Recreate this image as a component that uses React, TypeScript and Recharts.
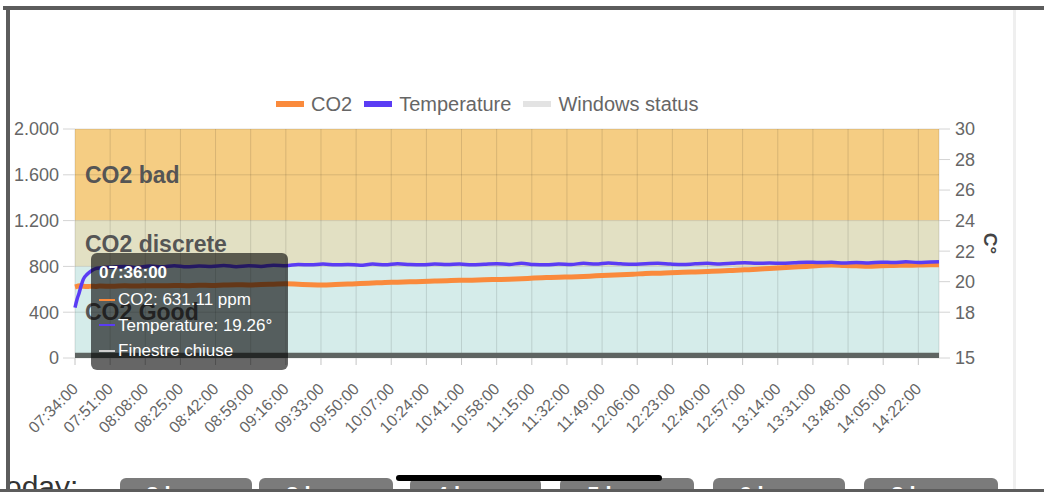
import React from 'react';
import {
  ComposedChart,
  Line,
  Area,
  XAxis,
  YAxis,
  CartesianGrid,
  ReferenceArea,
  Tooltip,
  Legend,
} from 'recharts';

const FONT = '"Liberation Sans", Arial, Helvetica, sans-serif';

// minutes elapsed since 07:34:00
const minutes = [
  0, 1, 2, 3, 4, 6, 8, 10, 12,
  18, 24, 30, 36, 42, 48, 54, 60, 66, 72,
  78, 84, 90, 96, 102, 108, 114, 120, 126, 132,
  138, 144, 150, 156, 162, 168, 174, 180, 186, 192,
  198, 204, 210, 216, 222, 228, 234, 240, 246, 252,
  258, 264, 270, 276, 282, 288, 294, 300, 306, 312,
  318, 324, 330, 336, 342, 348, 354, 360, 366, 372,
  378, 384, 390, 396, 402, 408, 414, 418,
];

const co2 = [
  620, 625, 631.11, 628, 626, 624, 627, 625, 628,
  626, 630, 628, 632, 630, 634, 632, 636, 634, 638,
  640, 638, 642, 645, 648, 644, 640, 638, 642, 646,
  650, 655, 660, 662, 666, 668, 672, 675, 678, 680,
  684, 686, 688, 692, 698, 702, 706, 708, 712, 718,
  722, 728, 732, 738, 740, 745, 748, 752, 756, 760,
  765, 770, 775, 782, 788, 794, 800, 808, 812, 808,
  805, 802, 806, 808, 810, 812, 814, 815,
];

const temperature = [
  18.3, 18.85, 19.26, 19.75, 20.15, 20.5, 20.72, 20.85, 20.9,
  20.95, 21.0, 20.93, 21.02, 20.98, 21.05, 20.97, 21.03, 21.0, 21.06,
  20.98, 21.04, 21.0, 21.08, 21.05, 21.12, 21.1, 21.15, 21.1, 21.13,
  21.08, 21.15, 21.1, 21.17, 21.12, 21.1, 21.15, 21.12, 21.16, 21.1,
  21.14, 21.18, 21.13, 21.2, 21.12, 21.1, 21.16, 21.13, 21.2, 21.15,
  21.22, 21.17, 21.14, 21.18, 21.2, 21.15, 21.12, 21.17, 21.2, 21.16,
  21.2, 21.24, 21.2, 21.22, 21.2, 21.24, 21.28, 21.25, 21.27, 21.22,
  21.25, 21.22, 21.28, 21.25, 21.3, 21.26, 21.29, 21.3,
];

const windowsStatus = [{ from: 0, to: 418, closed: true, label: 'Finestre chiuse' }];

const xTickMinutes = [
  0, 17, 34, 51, 68, 85, 102, 119, 136, 153, 170, 187, 204,
  221, 238, 255, 272, 289, 306, 323, 340, 357, 374, 391, 408,
];
const xTickLabels = [
  '07:34:00', '07:51:00', '08:08:00', '08:25:00', '08:42:00', '08:59:00', '09:16:00',
  '09:33:00', '09:50:00', '10:07:00', '10:24:00', '10:41:00', '10:58:00', '11:15:00',
  '11:32:00', '11:49:00', '12:06:00', '12:23:00', '12:40:00', '12:57:00', '13:14:00',
  '13:31:00', '13:48:00', '14:05:00', '14:22:00',
];

const co2Ticks = [0, 400, 800, 1200, 1600, 2000];
const co2TickLabels = ['0', '400', '800', '1.200', '1.600', '2.000'];
const tempTicks = [15, 18, 20, 22, 24, 26, 28, 30];

const co2Bands = [
  { name: 'CO2 bad', from: 1200, to: 2000, color: '#f5cd83' },
  { name: 'CO2 discrete', from: 800, to: 1200, color: '#e2e0c3' },
  { name: 'CO2 Good', from: 0, to: 800, color: '#d5ecea' },
];

const CO2_COLOR = '#fa8a3c';
const TEMP_COLOR = '#5a3cf4';
const WINDOW_COLOR = '#5e6462';

const legendItems = [
  { name: 'CO2', color: CO2_COLOR },
  { name: 'Temperature', color: TEMP_COLOR },
  { name: 'Windows status', color: '#e3e3e3' },
];

const buttonLabels = ['2 hours', '3 hours', '4 hours', '5 hours', '6 hours', '8 hours'];
const buttonSpans = [
  [120, 252], [259, 393], [410, 541], [560, 694], [713, 845], [864, 998],
];

const START_MIN = 7 * 60 + 34;
const fmtTime = (m: number) => {
  const t = START_MIN + m;
  const h = Math.floor(t / 60);
  const mm = t % 60;
  return `${String(h).padStart(2, '0')}:${String(mm).padStart(2, '0')}:00`;
};

const data = minutes.map((m, i) => ({
  m,
  time: fmtTime(m),
  co2: co2[i],
  temperature: temperature[i],
  windows: windowsStatus.some((s) => s.closed && m >= s.from && m <= s.to) ? 45 : 0,
}));

const XTick = (props: any) => {
  const { x, payload } = props;
  const idx = xTickMinutes.indexOf(payload.value);
  return (
    <g transform={`translate(${x + 4},${390}) rotate(-45)`}>
      <text x={0} y={0} textAnchor="end" fill="#666" fontSize={16} fontFamily={FONT}>
        {xTickLabels[idx]}
      </text>
    </g>
  );
};

const TooltipBox = (props: any) => {
  const { active, payload } = props;
  if (!active || !payload || !payload.length) return null;
  const row = payload[0].payload;
  const items = [
    { color: CO2_COLOR, text: `CO2: ${row.co2.toFixed(2)} ppm` },
    { color: TEMP_COLOR, text: `Temperature: ${row.temperature}°` },
    { color: '#cfcfcf', text: windowsStatus[0].label },
  ];
  return (
    <div
      style={{
        width: 197,
        height: 117,
        boxSizing: 'border-box',
        padding: '9px 8px',
        background: 'rgba(0,0,0,0.6)',
        borderRadius: 6,
        color: '#fff',
        fontFamily: FONT,
      }}
    >
      <div style={{ fontWeight: 'bold', fontSize: 17, lineHeight: '22px' }}>{row.time}</div>
      <div style={{ marginTop: 3 }}>
        {items.map((it) => (
          <div key={it.text} style={{ display: 'flex', alignItems: 'center', fontSize: 17, lineHeight: '25.5px', whiteSpace: 'nowrap' }}>
            <span style={{ display: 'inline-block', width: 16, height: 2, background: it.color, marginRight: 3 }} />
            <span>{it.text}</span>
          </div>
        ))}
      </div>
    </div>
  );
};

const LegendBox = () => (
  <div
    style={{
      display: 'flex',
      alignItems: 'center',
      paddingLeft: 276,
      height: 24,
      fontFamily: FONT,
      fontSize: 20,
      color: '#666',
    }}
  >
    {legendItems.map((it) => (
      <div key={it.name} style={{ display: 'flex', alignItems: 'center', marginRight: 12 }}>
        <span style={{ display: 'inline-block', width: 28, height: 6, background: it.color, marginRight: 7 }} />
        <span>{it.name}</span>
      </div>
    ))}
  </div>
);

const TempAxisLabel = (props: any) => {
  const vb = props.viewBox || { x: 939, y: 129, width: 105, height: 229 };
  const x = vb.x + 45;
  const y = vb.y + vb.height / 2;
  return (
    <text transform={`translate(${x},${y}) rotate(90)`} textAnchor="middle" fontSize={19} fontWeight="bold" fill="#444" fontFamily={FONT}>
      C°
    </text>
  );
};

export default function App() {
  return (
    <div style={{ position: 'absolute', left: 0, top: 0, width: 1044, height: 492, overflow: 'hidden', background: '#fff' }}>
      <div style={{ position: 'absolute', left: 0, top: 0 }}>
        <ComposedChart width={1044} height={492} data={data} margin={{ top: 129, right: 0, bottom: 54, left: 0 }}>
          {co2Bands.map((b) => (
            <ReferenceArea
              key={b.name}
              yAxisId="co2"
              y1={b.from}
              y2={b.to}
              fill={b.color}
              fillOpacity={1}
              stroke="none"
              ifOverflow="hidden"
              zIndex={-200}
              label={{ value: b.name, position: 'insideLeft', offset: 10, fill: '#555', fontSize: 23, fontWeight: 'bold', fontFamily: FONT }}
            />
          ))}
          <CartesianGrid yAxisId="co2" stroke="rgba(0,0,0,0.12)" zIndex={-100} />
          <XAxis
            dataKey="m"
            type="number"
            domain={[0, 418]}
            ticks={xTickMinutes}
            interval={0}
            height={80}
            axisLine={false}
            tickLine={{ stroke: '#c4c4c4' }}
            tickSize={7}
            tick={<XTick />}
          />
          <YAxis
            yAxisId="co2"
            orientation="left"
            width={75}
            domain={[0, 2000]}
            ticks={co2Ticks}
            interval={0}
            axisLine={false}
            tickLine={{ stroke: '#d4d4d4' }}
            tickSize={12}
            tickMargin={4}
            tick={{ fill: '#666', fontSize: 18, fontFamily: FONT }}
            tickFormatter={(v: number) => co2TickLabels[co2Ticks.indexOf(v)]}
          />
          <YAxis
            yAxisId="temp"
            orientation="right"
            width={105}
            domain={[15, 30]}
            ticks={tempTicks}
            interval={0}
            axisLine={false}
            tickLine={{ stroke: '#d4d4d4' }}
            tickSize={11}
            tickMargin={5}
            tick={{ fill: '#666', fontSize: 18, fontFamily: FONT }}
            label={<TempAxisLabel />}
          />
          <Area
            yAxisId="co2"
            dataKey="windows"
            name="Windows status"
            type="stepAfter"
            fill={WINDOW_COLOR}
            fillOpacity={1}
            stroke="none"
            isAnimationActive={false}
            activeDot={false}
          />
          <Line
            yAxisId="co2"
            dataKey="co2"
            name="CO2"
            type="monotone"
            stroke={CO2_COLOR}
            strokeWidth={5}
            dot={false}
            activeDot={false}
            isAnimationActive={false}
          />
          <Line
            yAxisId="temp"
            dataKey="temperature"
            name="Temperature"
            type="monotone"
            stroke={TEMP_COLOR}
            strokeWidth={3.5}
            dot={false}
            activeDot={false}
            isAnimationActive={false}
          />
          <Legend
            verticalAlign="middle"
            align="center"
            wrapperStyle={{ top: 92, left: 0, width: 1044, height: 24 }}
            content={<LegendBox />}
          />
          <Tooltip
            active
            defaultIndex={2}
            position={{ x: 91, y: 253 }}
            cursor={false}
            isAnimationActive={false}
            content={<TooltipBox />}
            wrapperStyle={{ outline: 'none' }}
          />
        </ComposedChart>
      </div>

      {/* bottom page content */}
      <div style={{ position: 'absolute', left: 10, top: 466, width: 100, height: 26, overflow: 'hidden' }}>
        <div style={{ position: 'absolute', left: -20, top: 6, fontFamily: FONT, fontSize: 30, lineHeight: '30px', color: '#333', whiteSpace: 'nowrap' }}>
          Today:
        </div>
      </div>
      {buttonLabels.map((b, i) => (
        <div
          key={b}
          style={{
            position: 'absolute',
            left: buttonSpans[i][0],
            top: 478,
            width: buttonSpans[i][1] - buttonSpans[i][0],
            height: 34,
            background: '#7b7b7b',
            borderRadius: 6,
            color: '#fff',
            fontFamily: FONT,
            fontWeight: 'bold',
            fontSize: 22,
            lineHeight: '24px',
            paddingTop: 5,
            boxSizing: 'border-box',
            textAlign: 'center',
            whiteSpace: 'nowrap',
          }}
        >
          {b}
        </div>
      ))}
      <div style={{ position: 'absolute', left: 396, top: 475, width: 266, height: 6, background: '#000', borderRadius: 3 }} />

      {/* device frame */}
      <div style={{ position: 'absolute', left: 3, top: 6, width: 1041, height: 4, background: '#5c5c5c' }} />
      <div style={{ position: 'absolute', left: 6, top: 6, width: 4, height: 486, background: '#5c5c5c' }} />
      <div style={{ position: 'absolute', left: 0, top: 489, width: 1044, height: 3, background: '#5c5c5c' }} />
      <div style={{ position: 'absolute', left: 1013, top: 10, width: 3, height: 479, background: '#efefef' }} />
    </div>
  );
}
